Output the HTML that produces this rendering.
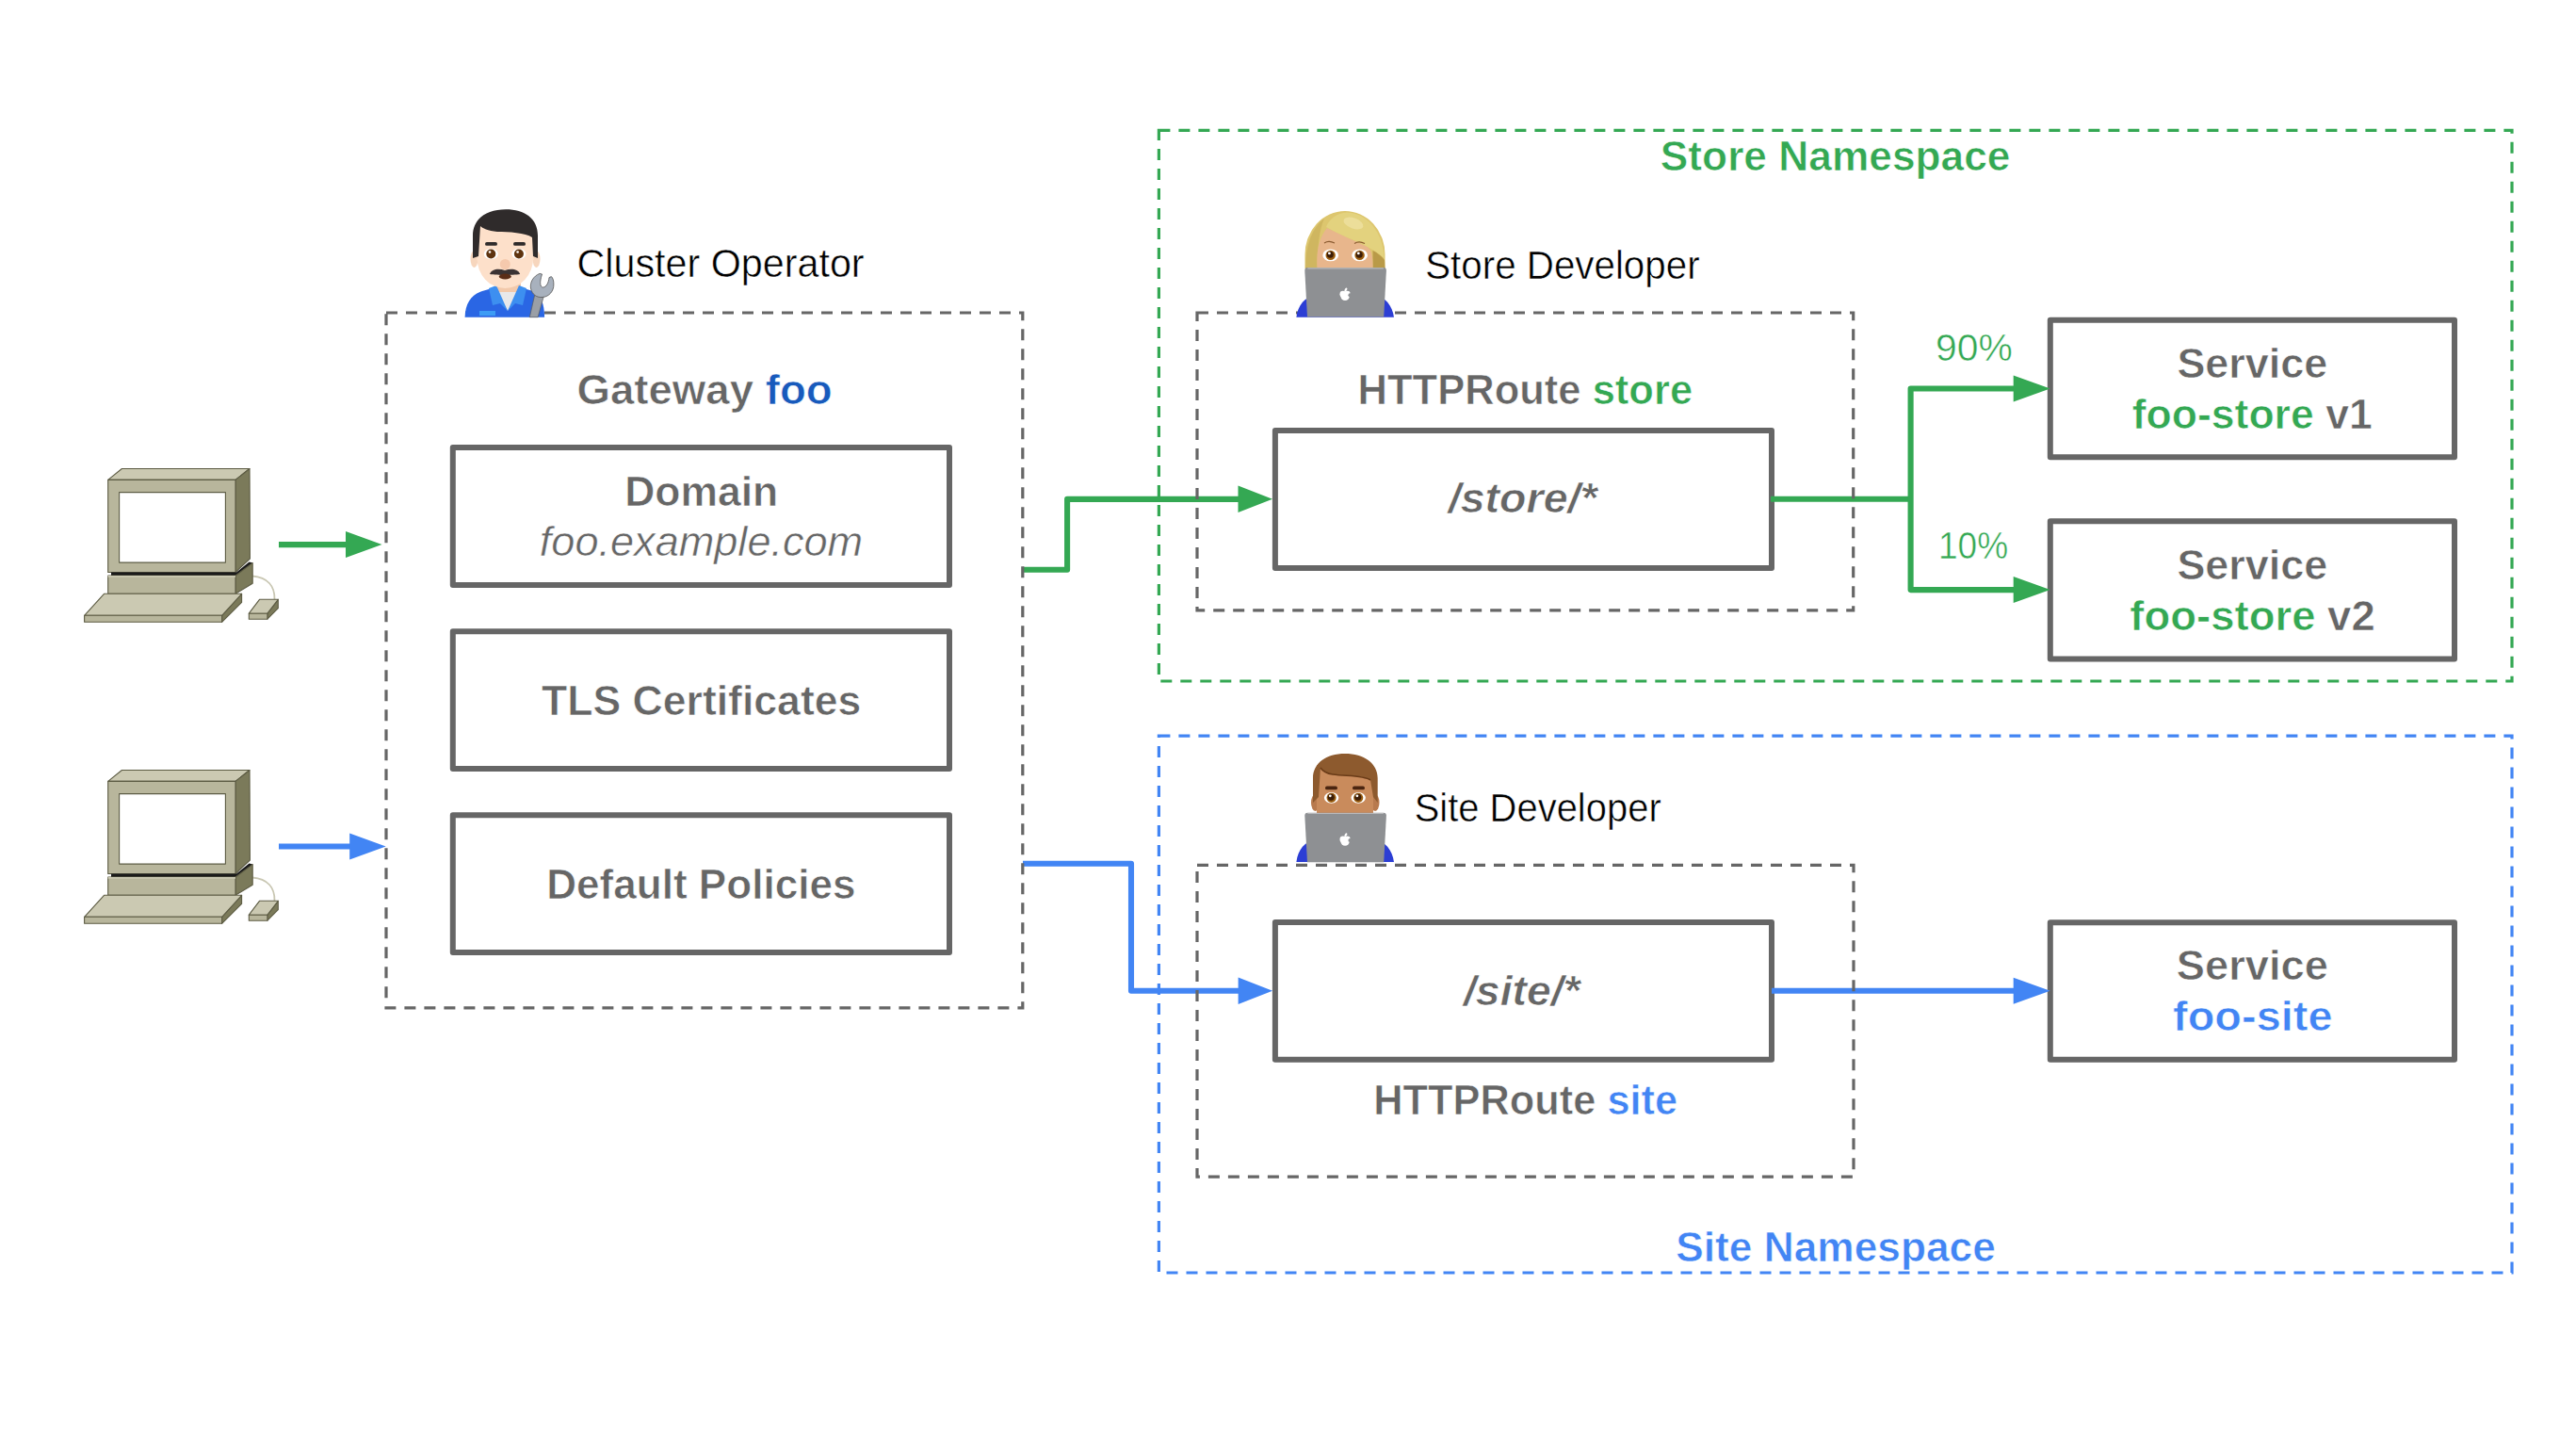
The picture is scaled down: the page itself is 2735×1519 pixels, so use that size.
<!DOCTYPE html>
<html><head><meta charset="utf-8"><style>
html,body{margin:0;padding:0;background:#ffffff;overflow:hidden}
svg{display:block}
text{font-family:"Liberation Sans", sans-serif}
</style></head><body>
<svg width="2735" height="1519" viewBox="0 0 2735 1519">
<path d="M1230.4 138.3H2667.0V723.0H1230.4Z" fill="none" stroke="#34a853" stroke-width="3.2" stroke-dasharray="12 9"/>
<path d="M1230.4 781.1H2667.0V1351.0H1230.4Z" fill="none" stroke="#4285f4" stroke-width="3.2" stroke-dasharray="12 9"/>
<rect x="480.8" y="475.1" width="527.2" height="145.8" fill="none" stroke="#666666" stroke-width="6" stroke-linejoin="round"/>
<rect x="480.8" y="670.2" width="527.2" height="145.8" fill="none" stroke="#666666" stroke-width="6" stroke-linejoin="round"/>
<rect x="480.8" y="865.2" width="527.2" height="145.7" fill="none" stroke="#666666" stroke-width="6" stroke-linejoin="round"/>
<rect x="1353.9" y="457.0" width="527.1" height="145.9" fill="none" stroke="#666666" stroke-width="6" stroke-linejoin="round"/>
<rect x="2176.8" y="339.7" width="429.2" height="145.6" fill="none" stroke="#666666" stroke-width="6" stroke-linejoin="round"/>
<rect x="2176.8" y="553.2" width="429.2" height="146.4" fill="none" stroke="#666666" stroke-width="6" stroke-linejoin="round"/>
<rect x="1353.9" y="978.9" width="527.1" height="145.9" fill="none" stroke="#666666" stroke-width="6" stroke-linejoin="round"/>
<rect x="2176.8" y="979.2" width="429.2" height="145.6" fill="none" stroke="#666666" stroke-width="6" stroke-linejoin="round"/>
<path d="M296.0 578.1 L370.0 578.1" fill="none" stroke="#34a853" stroke-width="6.1" stroke-linejoin="round"/>
<path d="M405.5 578.1L367.0 564.1L367.0 592.1Z" fill="#34a853"/>
<path d="M296.0 898.5 L374.0 898.5" fill="none" stroke="#4285f4" stroke-width="6.1" stroke-linejoin="round"/>
<path d="M1086.0 604.8 L1133.1 604.8 L1133.1 529.9 L1318.0 529.9" fill="none" stroke="#34a853" stroke-width="6.1" stroke-linejoin="round"/>
<path d="M1351.0 529.7L1314.5 515.6L1314.5 543.9Z" fill="#34a853"/>
<path d="M409.7 898.5L371.2 884.5L371.2 912.5Z" fill="#4285f4"/>
<path d="M1086.0 916.8 L1201.0 916.8 L1201.0 1051.8 L1318.0 1051.8" fill="none" stroke="#4285f4" stroke-width="6.1" stroke-linejoin="round"/>
<path d="M1351.1 1051.8L1314.6 1037.6L1314.6 1066.0Z" fill="#4285f4"/>
<path d="M1880.0 529.7 L2028.6 529.7" fill="none" stroke="#34a853" stroke-width="6.1" stroke-linejoin="round"/>
<path d="M2141.0 412.5 L2028.6 412.5 L2028.6 626.1 L2141.0 626.1" fill="none" stroke="#34a853" stroke-width="6.1" stroke-linejoin="round"/>
<path d="M2176.7 412.5L2137.7 398.5L2137.7 426.5Z" fill="#34a853"/>
<path d="M2176.7 626.1L2137.7 612.1L2137.7 640.1Z" fill="#34a853"/>
<path d="M1881.0 1051.8 L2141.0 1051.8" fill="none" stroke="#4285f4" stroke-width="6.1" stroke-linejoin="round"/>
<path d="M2176.7 1051.8L2137.7 1037.8L2137.7 1065.8Z" fill="#4285f4"/>
<path d="M410.0 332.0H1085.8V1069.8H410.0Z" fill="none" stroke="#666666" stroke-width="3.2" stroke-dasharray="12 9"/>
<path d="M1271.0 332.0H1967.7V647.8H1271.0Z" fill="none" stroke="#666666" stroke-width="3.2" stroke-dasharray="12 9"/>
<path d="M1271.0 918.3H1968.0V1249.2H1271.0Z" fill="none" stroke="#666666" stroke-width="3.2" stroke-dasharray="12 9"/>
<g transform="translate(0 0.0)" stroke="#5d5c44" stroke-width="1.1" stroke-linejoin="round">
<path d="M268 611.5 C284 613 292 622 291.5 636.5" fill="none" stroke="#c9c7b3" stroke-width="1.8"/>
<path d="M114.7 509.4 L129.4 497.5 L265 497.5 L250 509.4Z" fill="#cbc9b2"/>
<path d="M250 509.4 L265 497.5 L265.4 593 L250 607.5Z" fill="#7b7a5a"/>
<rect x="114.7" y="509.4" width="135.3" height="98.1" fill="#b8b69c"/>
<rect x="126.6" y="522.6" width="112.8" height="74.5" fill="#ffffff"/>
<path d="M118 607.5 L251 607.5 L264.5 596.5 L268.5 597.5 L252 611.2 L118 611.2Z" fill="#1a1a1a" stroke="none"/>
<path d="M250 611 L268.2 597.6 L268.2 619.2 L250 630.3Z" fill="#7b7a5a"/>
<rect x="114.7" y="611" width="135.3" height="19.3" fill="#b8b69c"/>
<path d="M114.7 611 L250 611 L250 612.8 L114.7 612.8Z" fill="#cbc9b2" stroke="none"/>
<path d="M235.6 653.3 L256.6 630.3 L256.6 639.4 L235.6 660.3Z" fill="#7b7a5a"/>
<path d="M89.6 653.3 L110.5 630.3 L256.6 630.3 L235.6 653.3Z" fill="#cbc9b2"/>
<rect x="89.6" y="653.3" width="146" height="7" fill="#b8b69c"/>
<path d="M283.9 651.2 L295.3 636.3 L295.3 645.6 L283.9 657.2Z" fill="#7b7a5a"/>
<path d="M264.3 651.2 L275.5 636.3 L295.3 636.3 L283.9 651.2Z" fill="#cbc9b2"/>
<rect x="264.3" y="651.2" width="19.6" height="6" fill="#b8b69c"/>
</g>
<g transform="translate(0 320.0)" stroke="#5d5c44" stroke-width="1.1" stroke-linejoin="round">
<path d="M268 611.5 C284 613 292 622 291.5 636.5" fill="none" stroke="#c9c7b3" stroke-width="1.8"/>
<path d="M114.7 509.4 L129.4 497.5 L265 497.5 L250 509.4Z" fill="#cbc9b2"/>
<path d="M250 509.4 L265 497.5 L265.4 593 L250 607.5Z" fill="#7b7a5a"/>
<rect x="114.7" y="509.4" width="135.3" height="98.1" fill="#b8b69c"/>
<rect x="126.6" y="522.6" width="112.8" height="74.5" fill="#ffffff"/>
<path d="M118 607.5 L251 607.5 L264.5 596.5 L268.5 597.5 L252 611.2 L118 611.2Z" fill="#1a1a1a" stroke="none"/>
<path d="M250 611 L268.2 597.6 L268.2 619.2 L250 630.3Z" fill="#7b7a5a"/>
<rect x="114.7" y="611" width="135.3" height="19.3" fill="#b8b69c"/>
<path d="M114.7 611 L250 611 L250 612.8 L114.7 612.8Z" fill="#cbc9b2" stroke="none"/>
<path d="M235.6 653.3 L256.6 630.3 L256.6 639.4 L235.6 660.3Z" fill="#7b7a5a"/>
<path d="M89.6 653.3 L110.5 630.3 L256.6 630.3 L235.6 653.3Z" fill="#cbc9b2"/>
<rect x="89.6" y="653.3" width="146" height="7" fill="#b8b69c"/>
<path d="M283.9 651.2 L295.3 636.3 L295.3 645.6 L283.9 657.2Z" fill="#7b7a5a"/>
<path d="M264.3 651.2 L275.5 636.3 L295.3 636.3 L283.9 651.2Z" fill="#cbc9b2"/>
<rect x="264.3" y="651.2" width="19.6" height="6" fill="#b8b69c"/>
</g>
<g>
<path d="M493.6 336.7 C494 322 500 313 512 309 L526 305 L552 305 L566 309 C574 313 578 322 578.1 336.7Z" fill="#2a66e4"/>
<rect x="525" y="296" width="28" height="16" fill="#f2c9ab"/>
<path d="M527 310 L551 310 L539 330Z" fill="#e8e8ea"/>
<path d="M519 306 L527 303 L539 330 L531 322 L523 324Z" fill="#3d8ff0"/>
<path d="M559 306 L551 303 L539 330 L547 322 L555 324Z" fill="#3d8ff0"/>
<rect x="509" y="330" width="17" height="5" fill="#3d9cf5"/>
<ellipse cx="503.5" cy="275" rx="4" ry="9" fill="#f7d6bd"/>
<ellipse cx="569.5" cy="275" rx="4" ry="9" fill="#f7d6bd"/>
<rect x="506.5" y="236" width="60" height="40" fill="#fde0ca"/>
<ellipse cx="536.3" cy="274" rx="29.8" ry="32" fill="#fde0ca"/>
<path d="M502 274 L502 250 C502 232 517 222.3 537 222.3 C557 222.3 571 232 571 250 L571 274 L566 272 L565 252 C558 247 540 246 528 246 C518 245 512 242 510 240 L508 272Z" fill="#2f2b2b"/>
<rect x="515" y="257" width="13" height="3.8" rx="1.9" fill="#2f2b2b"/>
<rect x="545" y="257" width="13" height="3.8" rx="1.9" fill="#2f2b2b"/>
<ellipse cx="521.3" cy="269.5" rx="7.5" ry="5.7" fill="#ffffff"/>
<ellipse cx="550.9" cy="269.5" rx="7.5" ry="5.7" fill="#ffffff"/>
<circle cx="521.3" cy="269.5" r="5" fill="#5e3410"/>
<circle cx="550.9" cy="269.5" r="5" fill="#5e3410"/>
<circle cx="520" cy="267.5" r="1.3" fill="#fff"/>
<circle cx="549.6" cy="267.5" r="1.3" fill="#fff"/>
<circle cx="536.3" cy="280.5" r="5.5" fill="#f5c9ad"/>
<path d="M520 291 C522 285 530 285 536 287 C542 285 550 285 552.2 291 C548 292 541 291 536 293 C531 291 524 292 520 291Z" fill="#3b3333"/>
<ellipse cx="536.3" cy="293.5" rx="6.5" ry="3" fill="#5a2d17"/>
<path d="M567.7 313 L577.7 313 L571.1 336.7 L562.3 336.7Z" fill="#9a9fa6" stroke="#5a5a5a" stroke-width="0.7"/>
<path d="M573.1 290.4 C566 293 562.5 300 563.5 306 C565 313 570 316 576 315.5 C583 315 588 309 587.9 302 C588 298 587 295 585.4 293.6 L583 294.6 C582.5 300 580 305 576.5 305 C573.5 305 572.5 300 575.5 291 Z" fill="#a8b1bd" stroke="#555555" stroke-width="0.8"/>
</g>
<g>
<path d="M1376.4 336.7 C1378 324 1385 315 1398 313 L1458 313 C1471 315 1478 324 1480 336.7Z" fill="#2c3ed4"/>
<path d="M1385.5 285 L1385.5 270 A42.5 46 0 0 1 1470.5 270 L1470.5 285 Z" fill="#ddc66e"/>
<path d="M1386 285 C1386 262 1392 243 1406 232 C1401 243 1398.5 262 1398.5 285Z" fill="#cfb660"/>
<path d="M1457.5 285 L1457.5 266 C1462 268 1467 272 1470 276 L1470.5 285Z" fill="#b99a48"/>
<path d="M1398.5 285 C1397.5 270 1399 254 1409 242 C1420 247 1436 255 1450 261 C1455 263.5 1458 268 1457.5 285 Z" fill="#e8b68c"/>
<path d="M1408 241 C1411 233 1419 226 1430 225.5 C1447 226 1459 238 1465 252 C1468 260 1469.5 267 1469.5 274 C1462 267 1452 262 1442 257 C1430 252 1418 247 1408 241Z" fill="#e3d27e"/>
<ellipse cx="1437" cy="237" rx="11" ry="5.5" transform="rotate(20 1437 237)" fill="#f0e3a6" opacity="0.7"/>
<path d="M1406 258 C1409 256 1413 256 1417 258" fill="none" stroke="#8a5a30" stroke-width="1.1"/>
<path d="M1438 258.5 C1441 256.5 1445 256.5 1449 258.5" fill="none" stroke="#8a5a30" stroke-width="1.1"/>
<ellipse cx="1412.7" cy="270.9" rx="8.4" ry="6.4" fill="#ffffff"/><circle cx="1412.7" cy="270.9" r="5.2" fill="#9a5e12"/><circle cx="1412.3" cy="270.3" r="3.5" fill="#3b1d08"/><circle cx="1411.4" cy="268.9" r="1.4" fill="#fff"/>
<ellipse cx="1443.6" cy="270.9" rx="8.4" ry="6.4" fill="#ffffff"/><circle cx="1443.6" cy="270.9" r="5.2" fill="#9a5e12"/><circle cx="1443.2" cy="270.3" r="3.5" fill="#3b1d08"/><circle cx="1442.3" cy="268.9" r="1.4" fill="#fff"/>
<path d="M1388.3 284.0 L1468.9 284.0 Q1471.9 284.0 1471.9 287.0 L1469.2 336.6 L1388 336.6 L1385.3 287.0 Q1385.3 284.0 1388.3 284.0Z" fill="#8e9093"/>
<path d="M1388.3 284.8 L1468.9 284.8" stroke="#b9babc" stroke-width="1.2"/>
<g fill="#ffffff">
<circle cx="1425.9" cy="312.2" r="3.4"/><circle cx="1430.3" cy="312.2" r="3.4"/>
<ellipse cx="1428.1" cy="314.8" rx="4.6" ry="4.2"/>
<circle cx="1433.4" cy="313.3" r="2.0" fill="#8e9093"/>
<ellipse cx="1428.9" cy="307.5" rx="1.1" ry="2.1" transform="rotate(35 1428.9 307.5)"/>
</g>
</g>
<g>
<path d="M1376.4 914.9 C1378 902 1385 893 1398 891 L1458 891 C1471 893 1478 902 1480 914.9Z" fill="#2c3ed4"/>
<ellipse cx="1396.5" cy="852" rx="4.5" ry="9" fill="#b87a4e"/>
<ellipse cx="1460" cy="852" rx="4.5" ry="9" fill="#b87a4e"/>
<path d="M1398 865 L1398 812 L1458 812 L1458 865Z" fill="#c98b5c"/>
<path d="M1394 852 L1394 826 C1394 810 1408 800 1428 800 C1448 800 1462.7 810 1462.7 826 L1462.7 852 L1458 846 L1455 828 C1448 823 1430 824 1415 822 C1408 821 1404 818 1402 815 L1400 846Z" fill="#8d5a2e"/>
<path d="M1402 815 C1404 818 1408 821 1415 822 C1430 824 1448 823 1455 828" fill="none" stroke="#6b3c18" stroke-width="1.6"/>
<rect x="1407" y="834.5" width="13" height="3.8" rx="1.9" fill="#4a2510"/>
<rect x="1436" y="834.5" width="13" height="3.8" rx="1.9" fill="#4a2510"/>
<ellipse cx="1413.6" cy="846.8" rx="7.7" ry="5.9" fill="#ffffff"/><circle cx="1413.6" cy="846.8" r="5.1" fill="#9a5e12"/><circle cx="1413.2" cy="846.2" r="3.5" fill="#3b1d08"/><circle cx="1412.3" cy="844.8" r="1.4" fill="#fff"/>
<ellipse cx="1442.2" cy="846.8" rx="7.7" ry="5.9" fill="#ffffff"/><circle cx="1442.2" cy="846.8" r="5.1" fill="#9a5e12"/><circle cx="1441.8" cy="846.2" r="3.5" fill="#3b1d08"/><circle cx="1440.9" cy="844.8" r="1.4" fill="#fff"/>
<path d="M1388.3 862.7 L1468.9 862.7 Q1471.9 862.7 1471.9 865.7 L1469.2 915.3 L1388 915.3 L1385.3 865.7 Q1385.3 862.7 1388.3 862.7Z" fill="#8e9093"/>
<path d="M1388.3 863.5 L1468.9 863.5" stroke="#b9babc" stroke-width="1.2"/>
<g fill="#ffffff">
<circle cx="1425.9" cy="890.9" r="3.4"/><circle cx="1430.3" cy="890.9" r="3.4"/>
<ellipse cx="1428.1" cy="893.5" rx="4.6" ry="4.2"/>
<circle cx="1433.4" cy="892.0" r="2.0" fill="#8e9093"/>
<ellipse cx="1428.9" cy="886.2" rx="1.1" ry="2.1" transform="rotate(35 1428.9 886.2)"/>
</g>
</g>
<g style="font-family:'Liberation Sans', sans-serif"><text id="t_cluster" x="612.50" y="293.90" font-size="41.60" font-weight="normal" font-style="normal" textLength="305.10" lengthAdjust="spacingAndGlyphs" stroke="#ffffff" stroke-width="0.50"><tspan fill="#000000">Cluster&#160;Operator</tspan></text>
<text id="t_gateway" x="612.50" y="428.60" font-size="44.80" font-weight="bold" font-style="normal" textLength="271.10" lengthAdjust="spacingAndGlyphs" stroke="#ffffff" stroke-width="0.60"><tspan fill="#666666">Gateway&#160;</tspan><tspan fill="#185abc">foo</tspan></text>
<text id="t_domain" x="663.20" y="537.20" font-size="44.80" font-weight="bold" font-style="normal" textLength="163.00" lengthAdjust="spacingAndGlyphs" stroke="#ffffff" stroke-width="0.60"><tspan fill="#666666">Domain</tspan></text>
<text id="t_fooex" x="572.80" y="590.40" font-size="43.50" font-weight="normal" font-style="italic" textLength="343.40" lengthAdjust="spacingAndGlyphs" stroke="#ffffff" stroke-width="0.50"><tspan fill="#666666">foo.example.com</tspan></text>
<text id="t_tls" x="575.10" y="759.00" font-size="44.80" font-weight="bold" font-style="normal" textLength="339.20" lengthAdjust="spacingAndGlyphs" stroke="#ffffff" stroke-width="0.60"><tspan fill="#666666">TLS&#160;Certificates</tspan></text>
<text id="t_default" x="580.30" y="953.70" font-size="44.80" font-weight="bold" font-style="normal" textLength="328.10" lengthAdjust="spacingAndGlyphs" stroke="#ffffff" stroke-width="0.60"><tspan fill="#666666">Default&#160;Policies</tspan></text>
<text id="t_storens" x="1762.80" y="180.90" font-size="44.80" font-weight="bold" font-style="normal" textLength="371.70" lengthAdjust="spacingAndGlyphs" stroke="#ffffff" stroke-width="0.60"><tspan fill="#34a853">Store&#160;Namespace</tspan></text>
<text id="t_storedev" x="1513.20" y="295.50" font-size="41.60" font-weight="normal" font-style="normal" textLength="291.40" lengthAdjust="spacingAndGlyphs" stroke="#ffffff" stroke-width="0.50"><tspan fill="#000000">Store&#160;Developer</tspan></text>
<text id="t_hrstore" x="1441.60" y="428.60" font-size="44.80" font-weight="bold" font-style="normal" textLength="355.50" lengthAdjust="spacingAndGlyphs" stroke="#ffffff" stroke-width="0.60"><tspan fill="#666666">HTTPRoute&#160;</tspan><tspan fill="#34a853">store</tspan></text>
<text id="t_storepath" x="1537.80" y="544.40" font-size="44.00" font-weight="bold" font-style="italic" textLength="157.80" lengthAdjust="spacingAndGlyphs" stroke="#ffffff" stroke-width="0.60"><tspan fill="#666666">/store/*</tspan></text>
<text id="t_90" x="2055.00" y="383.00" font-size="40.90" font-weight="normal" font-style="normal" textLength="81.80" lengthAdjust="spacingAndGlyphs" stroke="#ffffff" stroke-width="0.50"><tspan fill="#34a853">90%</tspan></text>
<text id="t_10" x="2058.00" y="593.10" font-size="40.90" font-weight="normal" font-style="normal" textLength="74.10" lengthAdjust="spacingAndGlyphs" stroke="#ffffff" stroke-width="0.50"><tspan fill="#34a853">10%</tspan></text>
<text id="t_svc1" x="2311.40" y="401.10" font-size="44.80" font-weight="bold" font-style="normal" textLength="159.90" lengthAdjust="spacingAndGlyphs" stroke="#ffffff" stroke-width="0.60"><tspan fill="#666666">Service</tspan></text>
<text id="t_fs1" x="2263.70" y="455.20" font-size="44.80" font-weight="bold" font-style="normal" textLength="255.00" lengthAdjust="spacingAndGlyphs" stroke="#ffffff" stroke-width="0.60"><tspan fill="#34a853">foo-store</tspan><tspan fill="#666666">&#160;v1</tspan></text>
<text id="t_svc2" x="2311.40" y="614.80" font-size="44.80" font-weight="bold" font-style="normal" textLength="159.90" lengthAdjust="spacingAndGlyphs" stroke="#ffffff" stroke-width="0.60"><tspan fill="#666666">Service</tspan></text>
<text id="t_fs2" x="2261.30" y="668.90" font-size="44.80" font-weight="bold" font-style="normal" textLength="260.40" lengthAdjust="spacingAndGlyphs" stroke="#ffffff" stroke-width="0.60"><tspan fill="#34a853">foo-store</tspan><tspan fill="#666666">&#160;v2</tspan></text>
<text id="t_sitedev" x="1501.70" y="871.80" font-size="41.60" font-weight="normal" font-style="normal" textLength="262.00" lengthAdjust="spacingAndGlyphs" stroke="#ffffff" stroke-width="0.50"><tspan fill="#000000">Site&#160;Developer</tspan></text>
<text id="t_sitepath" x="1554.00" y="1067.00" font-size="44.00" font-weight="bold" font-style="italic" textLength="123.60" lengthAdjust="spacingAndGlyphs" stroke="#ffffff" stroke-width="0.60"><tspan fill="#666666">/site/*</tspan></text>
<text id="t_hrsite" x="1458.30" y="1183.30" font-size="44.80" font-weight="bold" font-style="normal" textLength="322.80" lengthAdjust="spacingAndGlyphs" stroke="#ffffff" stroke-width="0.60"><tspan fill="#666666">HTTPRoute&#160;</tspan><tspan fill="#4285f4">site</tspan></text>
<text id="t_svc3" x="2310.80" y="1040.30" font-size="44.80" font-weight="bold" font-style="normal" textLength="161.00" lengthAdjust="spacingAndGlyphs" stroke="#ffffff" stroke-width="0.60"><tspan fill="#666666">Service</tspan></text>
<text id="t_foosite" x="2307.10" y="1094.30" font-size="44.80" font-weight="bold" font-style="normal" textLength="169.40" lengthAdjust="spacingAndGlyphs" stroke="#ffffff" stroke-width="0.60"><tspan fill="#4285f4">foo-site</tspan></text>
<text id="t_sitens" x="1779.20" y="1338.80" font-size="44.80" font-weight="bold" font-style="normal" textLength="339.70" lengthAdjust="spacingAndGlyphs" stroke="#ffffff" stroke-width="0.60"><tspan fill="#4285f4">Site&#160;Namespace</tspan></text></g>
</svg>
</body></html>
